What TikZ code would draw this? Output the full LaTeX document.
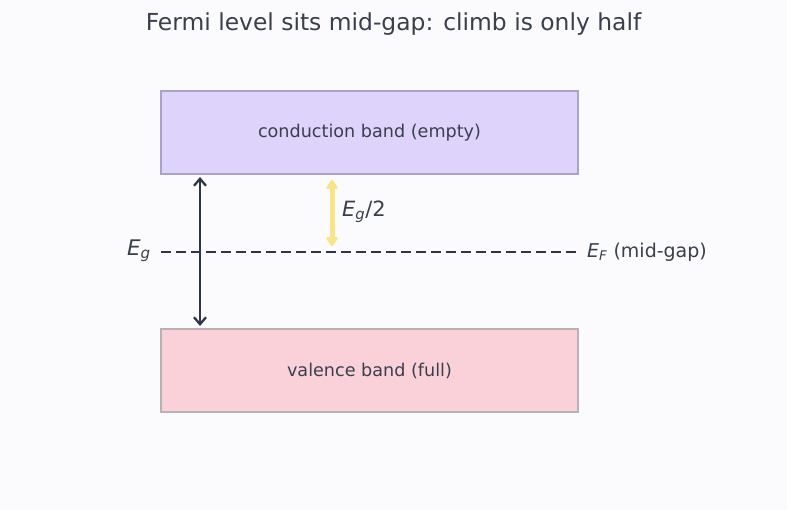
\documentclass[tikz,border=0pt]{standalone}
\usepackage{fontspec}
\setmainfont{DejaVu Sans}
\usetikzlibrary{arrows.meta}
\definecolor{bgc}{HTML}{FBFBFE}
\definecolor{txt}{HTML}{3A3F4E}
\definecolor{darkl}{HTML}{2F3747}
\definecolor{cfill}{HTML}{DDD3FB}
\definecolor{cdraw}{HTML}{A9A3C8}
\definecolor{vfill}{HTML}{FBD1D9}
\definecolor{vdraw}{HTML}{BBB0B6}
\definecolor{yel}{HTML}{F9E48A}
\newcommand\sub[2]{\textit{#1}\textsubscript{\textit{#2}}}
\tikzset{
  band/.style={draw, line width=1.6pt, minimum width=417pt, minimum height=83pt, inner sep=0pt, text=txt, font=\fontsize{17.6}{20}\selectfont},
  lbl/.style={text=txt, inner sep=0pt},
}
\begin{document}
\begin{tikzpicture}[x=1pt,y=-1pt]
\fill[bgc] (0,0) rectangle (787,510);
\useasboundingbox (0,0) rectangle (787,510);
\node[lbl, font=\fontsize{23.4}{26}\selectfont] (title) at (393.5,24) {Fermi level sits mid-gap: climb is only half};
\node[band, fill=cfill, draw=cdraw] (cb) at (369.5,132.5) {conduction band (empty)};
\node[band, fill=vfill, draw=vdraw] (vb) at (369.5,370.5) {valence band (full)};
\coordinate (fl) at (161,252);
\coordinate (fr) at (578,252);
\draw[darkl, line width=2.8pt, dash pattern=on 9.5pt off 5.5pt] (fl) -- (fr);
\coordinate (a1) at (200,177);
\coordinate (a2) at (200,326);
\draw[darkl, line width=2.3pt, {Straight Barb[length=7pt,width=12pt]}-{Straight Barb[length=7pt,width=12pt]}] (a1) -- (a2);
\coordinate (y1) at (332,180);
\coordinate (y2) at (332,246);
\draw[yel, line width=5pt, {Triangle[length=10pt,width=13pt,round]}-{Triangle[length=10pt,width=13pt,round]}] (y1) -- (y2);
\node[lbl, anchor=west, font=\fontsize{21}{24}\selectfont] (half) at (342,212) {\sub{E}{g}/2};
\node[lbl, anchor=east, font=\fontsize{21.5}{24}\selectfont] (eg) at (151,251) {\sub{E}{g}};
\node[lbl, anchor=west, font=\fontsize{19}{22}\selectfont] (ef) at (587,252) {\sub{E}{F} (mid-gap)};
\end{tikzpicture}
\end{document}
